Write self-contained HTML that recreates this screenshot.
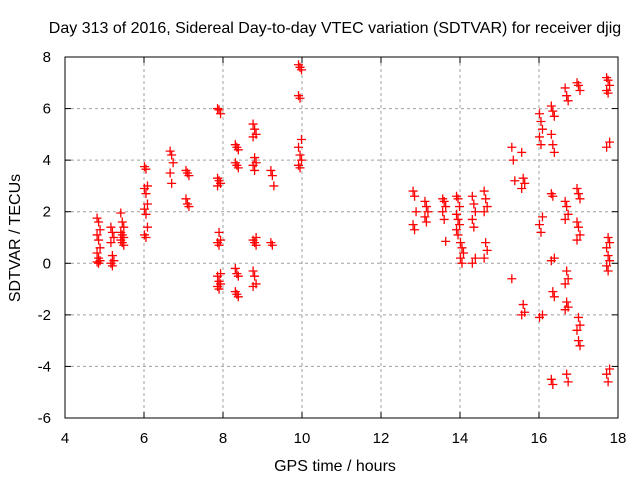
<!DOCTYPE html>
<html><head><meta charset="utf-8"><style>
body{margin:0;background:#fff}
svg{display:block;font-family:"Liberation Sans",sans-serif}
</style></head><body>
<svg id="chart" width="640" height="480">
<text x="335" y="33" font-size="16" text-anchor="middle">Day 313 of 2016, Sidereal Day-to-day VTEC variation (SDTVAR) for receiver djig</text>
<g id="grid"></g><g id="ticks"></g><g id="marks"></g>
<rect x="65" y="57" width="553" height="361" fill="none" stroke="#000" stroke-width="1"/>
<text x="335" y="471" font-size="16" text-anchor="middle">GPS time / hours</text>
<text transform="translate(20,238) rotate(-90)" font-size="16" text-anchor="middle">SDTVAR / TECUs</text>
</svg>
<script>
const xTicks=[4,6,8,10,12,14,16,18];
const yTicks=[-6,-4,-2,0,2,4,6,8];
const clusterHours=[4.85,5.2,5.45,6.05,6.7,7.1,7.9,8.35,8.8,9.25,9.95,12.85,13.15,13.6,13.95,14.05,14.35,14.65,15.35,15.6,16.05,16.35,16.7,17.0,17.75];
const clusterValues=[
[1.75,1.6,1.3,1.1,0.9,0.6,0.4,0.2,0.1,0.05,0.0],
[1.4,1.2,1.0,0.8,0.3,0.1,0.0,-0.1],
[1.95,1.6,1.4,1.2,1.1,1.0,0.9,0.8,0.7],
[3.75,3.65,3.0,2.9,2.7,2.3,2.1,1.9,1.4,1.1,1.0],
[4.35,4.2,3.9,3.5,3.1],
[3.6,3.5,3.4,2.5,2.3,2.2],
[6.0,5.95,5.8,3.3,3.2,3.1,3.0,1.2,0.9,0.8,0.7,-0.4,-0.5,-0.7,-0.8,-0.9,-1.0],
[4.6,4.5,4.4,3.9,3.8,3.7,-0.2,-0.4,-0.5,-1.1,-1.2,-1.3],
[5.4,5.2,5.0,4.9,4.1,3.9,3.8,3.6,1.0,0.9,0.8,0.7,-0.3,-0.5,-0.8,-0.9],
[3.6,3.4,3.0,0.8,0.7],
[7.7,7.6,7.5,6.5,6.4,4.8,4.5,4.2,4.0,3.8,3.7],
[2.8,2.6,2.0,1.5,1.3],
[2.4,2.2,2.0,1.8,1.6],
[2.5,2.4,2.2,2.0,1.7,0.85],
[2.6,2.5,2.2,1.9,1.7,1.5,1.3,1.1],
[0.8,0.6,0.4,0.2,0.0],
[2.6,2.3,2.0,1.7,1.4,0.2,0.0],
[2.8,2.5,2.2,2.0,0.8,0.5,0.2],
[4.5,4.0,3.2,-0.6],
[4.3,3.3,3.1,2.9,-1.6,-1.9,-2.0],
[5.8,5.5,5.2,4.9,4.6,1.8,1.5,1.2,-2.0,-2.1],
[6.1,5.9,5.7,5.0,4.6,4.3,2.7,2.6,0.2,0.1,-1.1,-1.3,-4.5,-4.7],
[6.8,6.5,6.3,2.4,2.2,1.9,1.7,-0.3,-0.6,-0.8,-1.5,-1.7,-1.8,-4.3,-4.6],
[7.0,6.9,6.7,2.9,2.7,2.5,1.6,1.4,1.1,0.9,-2.1,-2.4,-2.6,-3.0,-3.2],
[7.2,7.1,6.9,6.7,6.6,4.7,4.5,1.0,0.8,0.6,0.3,0.1,-0.1,-0.3,-4.1,-4.3,-4.6]
];
const NS="http://www.w3.org/2000/svg";
const X0=65,X1=618,Y0=418,Y1=57;
function sx(h){return X0+(h-4)/14*(X1-X0);}
function sy(v){return Y0-(v+6)/14*(Y0-Y1);}
function el(t,a,p){const e=document.createElementNS(NS,t);for(const k in a)e.setAttribute(k,a[k]);p.appendChild(e);return e;}
const grid=document.getElementById('grid'),ticks=document.getElementById('ticks'),marks=document.getElementById('marks');
xTicks.forEach(t=>{const x=sx(t);
 if(t>4&&t<18){const g=el('line',{x1:x,x2:x,y1:Y1,y2:Y0,stroke:'#a0a0a0','stroke-dasharray':'3,3'},grid);
 
 }
 el('line',{x1:x,x2:x,y1:Y0,y2:Y0-6,stroke:'#000'},ticks);
 el('line',{x1:x,x2:x,y1:Y1,y2:Y1+6,stroke:'#000'},ticks);
 const l=el('text',{x:x,y:443,'font-size':15,'text-anchor':'middle'},ticks);l.textContent=t;
 
 });
yTicks.forEach(t=>{const y=sy(t);
 if(t>-6&&t<8){const g=el('line',{x1:X0,x2:X1,y1:y,y2:y,stroke:'#a0a0a0','stroke-dasharray':'3,3'},grid);
 
 }
 el('line',{x1:X0,x2:X0+6,y1:y,y2:y,stroke:'#000'},ticks);
 el('line',{x1:X1,x2:X1-6,y1:y,y2:y,stroke:'#000'},ticks);
 const l=el('text',{x:51,y:y+5,'font-size':15,'text-anchor':'end'},ticks);l.textContent=t;
 
 });
clusterHours.forEach((h,i)=>{clusterValues[i].forEach((v,j)=>{
 const x=sx(h)+((j%3)-1)*1.5,y=sy(v);
 const p=el('path',{d:`M${x-4.5},${y}H${x+4.5}M${x},${y-4.5}V${y+4.5}`,stroke:'#ff0000','stroke-width':1.3},marks);
 
 });});
</script>
</body></html>
